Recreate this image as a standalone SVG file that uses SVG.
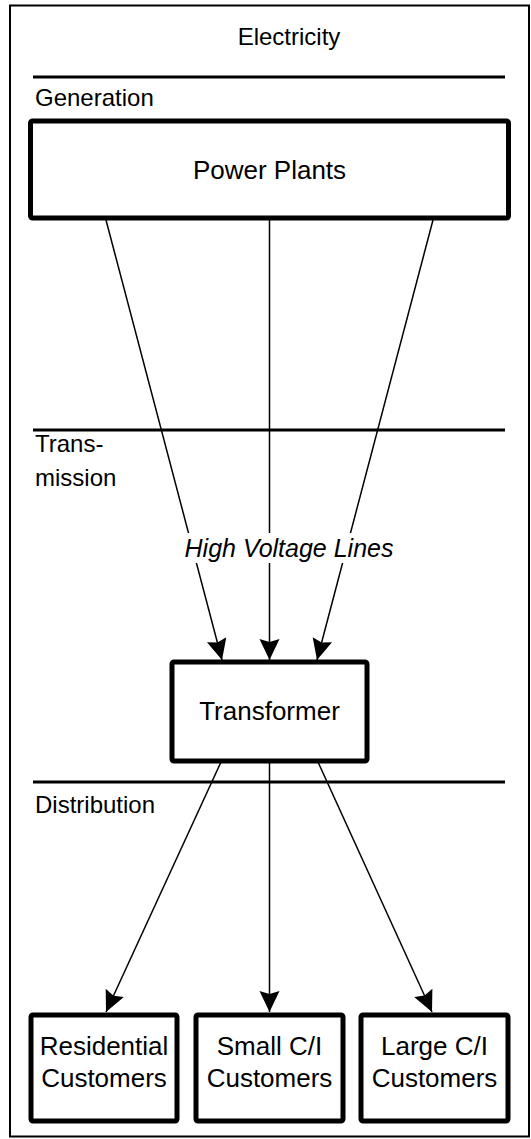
<svg xmlns="http://www.w3.org/2000/svg" width="531" height="1139" viewBox="0 0 531 1139">
  <style>
    .t { font-family: "Liberation Sans", Arial, sans-serif; fill: #000; }
    .sec { font-size: 24px; }
    .node { font-size: 26px; text-anchor: middle; }
    .box { fill: #fff; stroke: #000; stroke-width: 5; }
    .sep { stroke: #000; stroke-width: 3; }
    .conn { stroke: #000; stroke-width: 1.5; fill: none; marker-end: url(#arr); }
  </style>
  <defs>
    <marker id="arr" markerUnits="userSpaceOnUse" markerWidth="24" markerHeight="22" refX="21" refY="10" orient="auto">
      <path d="M0,0 L21,10 L0,20 L3,10 z" fill="#000"/>
    </marker>
  </defs>
  <rect x="0" y="0" width="531" height="1139" fill="#fff"/>
  <rect id="frame" x="10" y="5.5" width="519" height="1131" fill="#fff" stroke="#000" stroke-width="2"/>
  <text class="t sec" x="289" y="45" text-anchor="middle">Electricity</text>
  <line class="sep" x1="33" y1="77" x2="505" y2="77"/>
  <text class="t sec" x="35" y="106">Generation</text>
  <line class="sep" x1="33" y1="430" x2="505" y2="430"/>
  <text class="t sec" x="35" y="452">Trans-</text>
  <text class="t sec" x="35" y="486">mission</text>
  <line class="sep" x1="33" y1="782" x2="505" y2="782"/>
  <text class="t sec" x="35" y="813">Distribution</text>

  <g id="connectors">
    <line class="conn" x1="106" y1="220" x2="222" y2="660"/>
    <line class="conn" x1="269.5" y1="220" x2="269.5" y2="660"/>
    <line class="conn" x1="433" y1="220" x2="317" y2="660"/>
    <line class="conn" x1="221" y1="762" x2="106" y2="1012"/>
    <line class="conn" x1="269.5" y1="762" x2="269.5" y2="1012"/>
    <line class="conn" x1="318" y1="762" x2="432" y2="1012"/>
    <g id="label-hvl">
      <rect x="180" y="533" width="218" height="30" fill="#fff"/>
      <text class="t" x="289" y="557" font-size="25" font-style="italic" text-anchor="middle">High Voltage Lines</text>
    </g>
  </g>

  <g id="power-plants">
    <rect class="box" x="30.5" y="121" width="478" height="97" rx="2"/>
    <text class="t node" x="269.5" y="179">Power Plants</text>
  </g>
  <g id="transformer">
    <rect class="box" x="172" y="662" width="195" height="99" rx="2"/>
    <text class="t node" x="269.5" y="720">Transformer</text>
  </g>
  <g id="residential">
    <rect class="box" x="31" y="1015" width="146" height="106" rx="2"/>
    <text class="t node" x="104" y="1055">Residential</text>
    <text class="t node" x="104" y="1087">Customers</text>
  </g>
  <g id="small-ci">
    <rect class="box" x="196" y="1015" width="147" height="106" rx="2"/>
    <text class="t node" x="269.5" y="1055">Small C/I</text>
    <text class="t node" x="269.5" y="1087">Customers</text>
  </g>
  <g id="large-ci">
    <rect class="box" x="361" y="1015" width="147" height="106" rx="2"/>
    <text class="t node" x="434.5" y="1055">Large C/I</text>
    <text class="t node" x="434.5" y="1087">Customers</text>
  </g>
</svg>
